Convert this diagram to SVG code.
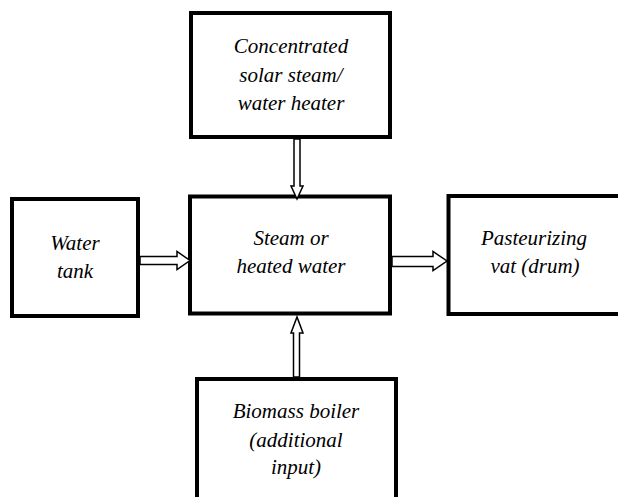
<svg xmlns="http://www.w3.org/2000/svg" width="618" height="497" viewBox="0 0 618 497" font-family="Liberation Serif" font-style="italic" font-size="21">
<rect width="618" height="497" fill="#fff"/>
<g id="solar">
<rect x="191" y="13" width="199" height="124" fill="#fff" stroke="#000" stroke-width="4"/>
<text x="291" y="53" font-family="Liberation Serif" font-style="italic" font-size="21" text-anchor="middle">Concentrated</text>
<text x="291" y="82" font-family="Liberation Serif" font-style="italic" font-size="21" text-anchor="middle">solar steam/</text>
<text x="291" y="110" font-family="Liberation Serif" font-style="italic" font-size="21" text-anchor="middle">water heater</text>
</g>
<g id="tank">
<rect x="12" y="199" width="126" height="117" fill="#fff" stroke="#000" stroke-width="4"/>
<text x="75" y="250" font-family="Liberation Serif" font-style="italic" font-size="21" text-anchor="middle">Water</text>
<text x="75" y="278" font-family="Liberation Serif" font-style="italic" font-size="21" text-anchor="middle">tank</text>
</g>
<g id="steam">
<rect x="190" y="196.5" width="200" height="117" fill="#fff" stroke="#000" stroke-width="4"/>
<text x="291" y="245" font-family="Liberation Serif" font-style="italic" font-size="21" text-anchor="middle">Steam or</text>
<text x="291" y="273" font-family="Liberation Serif" font-style="italic" font-size="21" text-anchor="middle">heated water</text>
</g>
<g id="vat">
<rect x="448.5" y="196" width="200" height="118" fill="#fff" stroke="#000" stroke-width="4"/>
<text x="534" y="245" font-family="Liberation Serif" font-style="italic" font-size="21" text-anchor="middle">Pasteurizing</text>
<text x="535" y="273" font-family="Liberation Serif" font-style="italic" font-size="21" text-anchor="middle">vat (drum)</text>
</g>
<g id="biomass">
<rect x="197" y="379" width="199" height="150" fill="#fff" stroke="#000" stroke-width="4"/>
<text x="296" y="418" font-family="Liberation Serif" font-style="italic" font-size="21" text-anchor="middle">Biomass boiler</text>
<text x="296" y="447" font-family="Liberation Serif" font-style="italic" font-size="21" text-anchor="middle">(additional</text>
<text x="296" y="474" font-family="Liberation Serif" font-style="italic" font-size="21" text-anchor="middle">input)</text>
</g>
<g id="connectors" fill="#fff" stroke="#000" stroke-width="1.5">
<polygon points="294,139 294,186 291,186 297,199 303,186 300,186 300,139"/>
<polygon points="140,256.5 177,256.5 177,251.5 190,260.5 177,269.5 177,264.5 140,264.5"/>
<polygon points="392,256.5 433,256.5 433,251.5 447,261 433,270.5 433,266.5 392,266.5"/>
<polygon points="293.5,377 293.5,333 291,333 297,317 303,333 299.5,333 299.5,377"/>
</g>
</svg>
